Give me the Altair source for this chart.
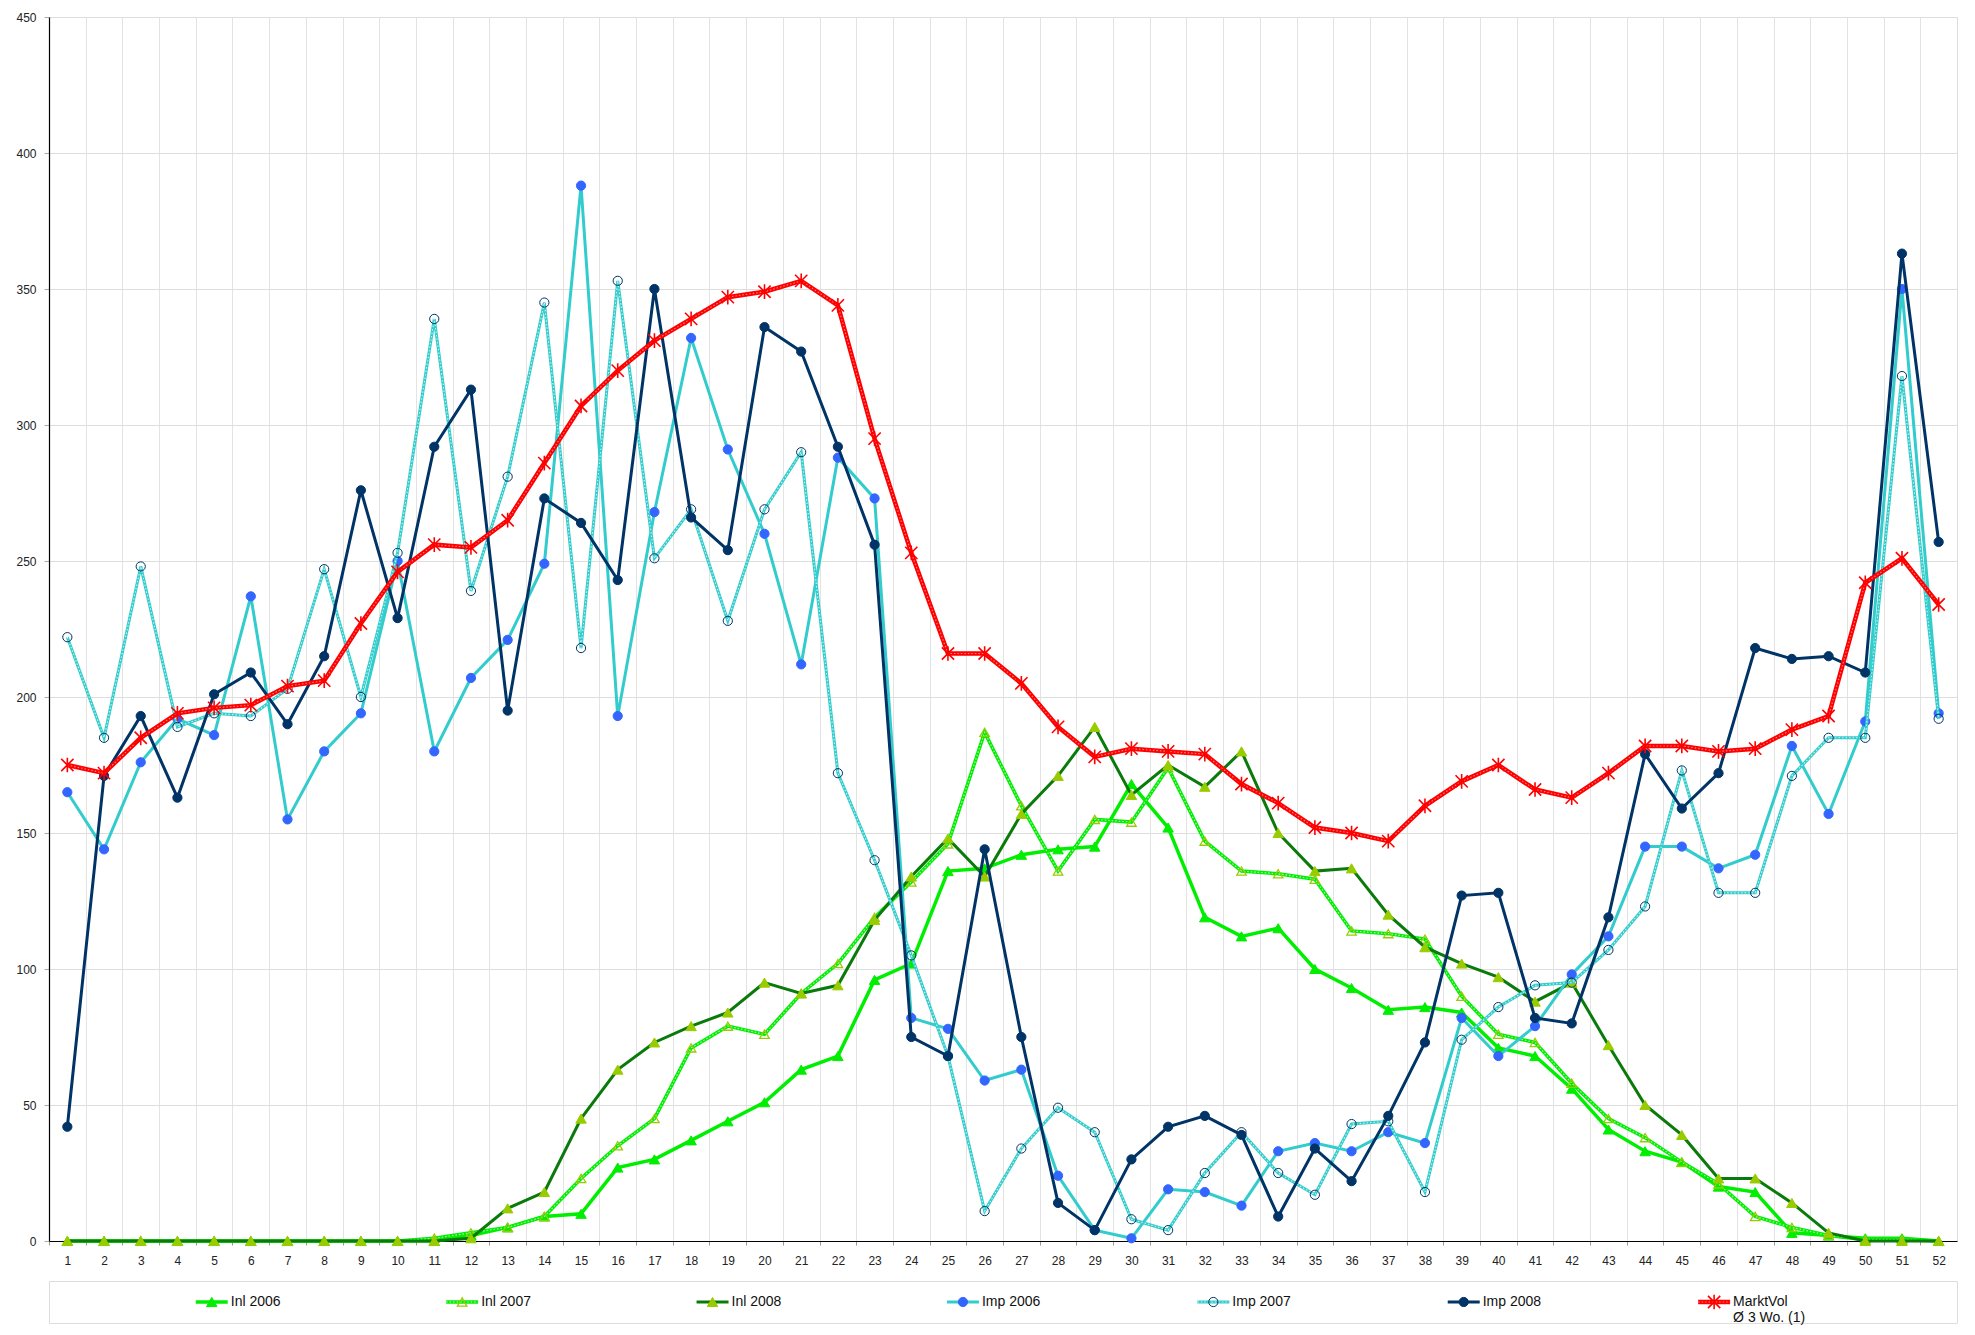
import altair as alt
import pandas as pd

weeks = list(range(1, 53))

inl_2006 = [0, 0, 0, 0, 0, 0, 0, 0, 0, 0,
            0, 2, 5, 9, 10, 27, 30, 37, 44, 51,
            63, 68, 96, 102, 136, 137, 142, 144, 145, 168,
            152, 119, 112, 115, 100, 93, 85, 86, 84, 71,
            68, 56, 41, 33, 29, 20, 18, 3, 2, 1,
            1, 0]
inl_2007 = [0, 0, 0, 0, 0, 0, 0, 0, 0, 0,
            1, 3, 5, 9, 23, 35, 45, 71, 79, 76,
            91, 102, 119, 132, 146, 187, 160, 136, 155, 154,
            174, 147, 136, 135, 133, 114, 113, 111, 90, 76,
            73, 58, 45, 38, 29, 21, 9, 5, 2, 0.5,
            0.5, 0]
inl_2008 = [0, 0, 0, 0, 0, 0, 0, 0, 0, 0,
            0, 1, 12, 18, 45, 63, 73, 79, 84, 95,
            91, 94, 118, 134, 148, 134, 157, 171, 189, 164,
            175, 167, 180, 150, 136, 137, 120, 108, 102, 97,
            88, 95, 72, 50, 39, 23, 23, 14, 3, 0,
            0, 0]
imp_2006 = [165, 144, 176, 192, 186, 237, 155, 180, 194, 250,
            180, 207, 221, 249, 388, 193, 268, 332, 291, 260,
            212, 288, 273, 82, 78, 59, 63, 24, 4, 1,
            19, 18, 13, 33, 36, 33, 40, 36, 82, 68,
            79, 98, 112, 145, 145, 137, 142, 182, 157, 191,
            350, 194]
imp_2007 = [222, 185, 248, 189, 194, 193, 203, 247, 200, 253,
            339, 239, 281, 345, 218, 353, 251, 269, 228, 269,
            290, 172, 140, 105, 68, 11, 34, 49, 40, 8,
            4, 25, 40, 25, 17, 43, 44, 18, 74, 86,
            94, 95, 107, 123, 173, 128, 128, 171, 185, 185,
            318, 192]
imp_2008 = [42, 171, 193, 163, 201, 209, 190, 215, 276, 229,
            292, 313, 195, 273, 264, 243, 350, 266, 254, 336,
            327, 292, 256, 75, 68, 144, 75, 14, 4, 30,
            42, 46, 39, 9, 34, 22, 46, 73, 127, 128,
            82, 80, 119, 179, 159, 172, 218, 214, 215, 209,
            363, 257]
markt_vol = [175, 172, 185, 194, 196, 197, 204, 206, 227, 246,
             256, 255, 265, 286, 307, 320, 331, 339, 347, 349,
             353, 344, 295, 253, 216, 216, 205, 189, 178, 181,
             180, 179, 168, 161, 152, 150, 147, 160, 169, 175,
             166, 163, 172, 182, 182, 180, 181, 188, 193, 242,
             251, 234]

series_names = ["Inl 2006", "Inl 2007", "Inl 2008", "Imp 2006", "Imp 2007", "Imp 2008", "MarktVol"]
series_values = [inl_2006, inl_2007, inl_2008, imp_2006, imp_2007, imp_2008, markt_vol]
legend_sub = ["", "", "", "", "", "", "Ø 3 Wo. (1)"]
y_ticks = list(range(0, 451, 50))

FONT = "Liberation Sans"
STAR = "M-1,-1L1,1M-1,1L1,-1M0,-1.2L0,1.2"

styles = {
    "Inl 2006": dict(line="#00EE00", width=3.5, dotted=False, shape="triangle-up",
                     fill="#00EE00", stroke="#00EE00", size=110, sw=1),
    "Inl 2007": dict(line="#00EE00", width=3.5, dotted=True, shape="triangle-up",
                     fill="transparent", stroke="#99CC00", size=90, sw=1.3),
    "Inl 2008": dict(line="#0A7A0A", width=3, dotted=False, shape="triangle-up",
                     fill="#99CC00", stroke="#99CC00", size=110, sw=1),
    "Imp 2006": dict(line="#33CCCC", width=3, dotted=False, shape="circle",
                     fill="#3366FF", stroke="#3366FF", size=85, sw=1),
    "Imp 2007": dict(line="#33CCCC", width=3, dotted=True, shape="circle",
                     fill="transparent", stroke="#003366", size=85, sw=1),
    "Imp 2008": dict(line="#003366", width=3, dotted=False, shape="circle",
                     fill="#003366", stroke="#003366", size=85, sw=1),
    "MarktVol": dict(line="#FF0000", width=4.5, dotted=True, shape=STAR,
                     fill="transparent", stroke="#FF0000", size=150, sw=1.6),
}

rows = []
for name, vals in zip(series_names, series_values):
    for w, v in zip(weeks, vals):
        rows.append({"week": w, "series": name, "value": v})
df = pd.DataFrame(rows)

grid_vals = [w - 0.5 for w in weeks]

X = alt.X("week:Q",
          scale=alt.Scale(domain=[0.5, 52.5], nice=False, zero=False),
          axis=alt.Axis(values=grid_vals, title=None,
                        labelExpr="format(datum.value + 0.5, 'd')",
                        labelOffset=18.35, labelOverlap=False, labelFlush=False, labelBound=False,
                        grid=True, gridColor="#e3e3e3", gridWidth=1,
                        ticks=True, tickSize=4, tickColor="#999999",
                        domainColor="#000000", domainWidth=1.2,
                        labelPadding=10, labelFontSize=12, labelColor="#222222",
                        labelFont=FONT))
Y = alt.Y("value:Q",
          scale=alt.Scale(domain=[0, 450], nice=False),
          axis=alt.Axis(values=y_ticks, title=None, grid=True, gridColor="#dedede",
                        tickSize=5, tickColor="#aaaaaa", domainColor="#000000",
                        domainWidth=1.2, labelPadding=8, labelFontSize=12,
                        labelColor="#222222", labelFlush=False, labelFont=FONT))

layers = []
for name in series_names:
    st = styles[name]
    base = alt.Chart(df).transform_filter(alt.datum.series == name)
    layers.append(base.mark_line(color=st["line"], strokeWidth=st["width"]).encode(x=X, y=Y))
    if st["dotted"]:
        over = "#FFB0B0" if name == "MarktVol" else "#FFFFFF"
        layers.append(base.mark_line(color=over, strokeWidth=1.1, strokeDash=[1.5, 2],
                                     opacity=0.75).encode(x=X, y=Y))
    layers.append(base.mark_point(shape=st["shape"], size=st["size"], filled=False,
                                  fill=st["fill"], stroke=st["stroke"], strokeWidth=st["sw"],
                                  opacity=1).encode(x=X, y=Y))

main = alt.layer(*layers).properties(width=1908, height=1224)

leg_df = pd.DataFrame({"idx": list(range(len(series_names))), "label": series_names,
                       "sub": legend_sub, "row": [0] * len(series_names)})
LX = alt.X("idx:Q", scale=alt.Scale(domain=[-0.65, 6.97], nice=False, zero=False), axis=None)
LY = alt.Y("row:Q", scale=alt.Scale(domain=[-1, 1], nice=False, zero=False), axis=None)

leg_layers = []
for i, name in enumerate(series_names):
    st = styles[name]
    base = alt.Chart(leg_df).transform_filter(alt.datum.idx == i)
    leg_layers.append(base.mark_point(shape="stroke", size=1024, filled=False,
                                      stroke=st["line"], strokeWidth=st["width"],
                                      opacity=1).encode(x=LX, y=LY))
    if st["dotted"]:
        over = "#FFB0B0" if name == "MarktVol" else "#FFFFFF"
        leg_layers.append(base.mark_point(shape="stroke", size=1024, filled=False,
                                          stroke=over, strokeWidth=1.1, strokeDash=[1.5, 2],
                                          opacity=0.75).encode(x=LX, y=LY))
    leg_layers.append(base.mark_point(shape=st["shape"], size=st["size"], filled=False,
                                      fill=st["fill"], stroke=st["stroke"], strokeWidth=st["sw"],
                                      opacity=1).encode(x=LX, y=LY))
leg_layers.append(alt.Chart(leg_df).mark_text(align="left", baseline="middle", dx=19,
                                              fontSize=14, font=FONT, color="#111111")
                  .encode(x=LX, y=LY, text="label:N"))
leg_layers.append(alt.Chart(leg_df).mark_text(align="left", baseline="middle", dx=19, dy=16,
                                              fontSize=14, font=FONT, color="#111111")
                  .encode(x=LX, y=LY, text="sub:N"))

legend = alt.layer(*leg_layers).properties(width=1908, height=42)

chart = alt.vconcat(main, legend, spacing=40, bounds="flush").properties(
    padding={"left": 7, "top": 2, "right": 5, "bottom": 0},
    background="white",
).configure_view(stroke="#c8c8c8", strokeWidth=1).configure(font=FONT)

chart.save("out.html", embed_options={"renderer": "svg", "actions": False})
